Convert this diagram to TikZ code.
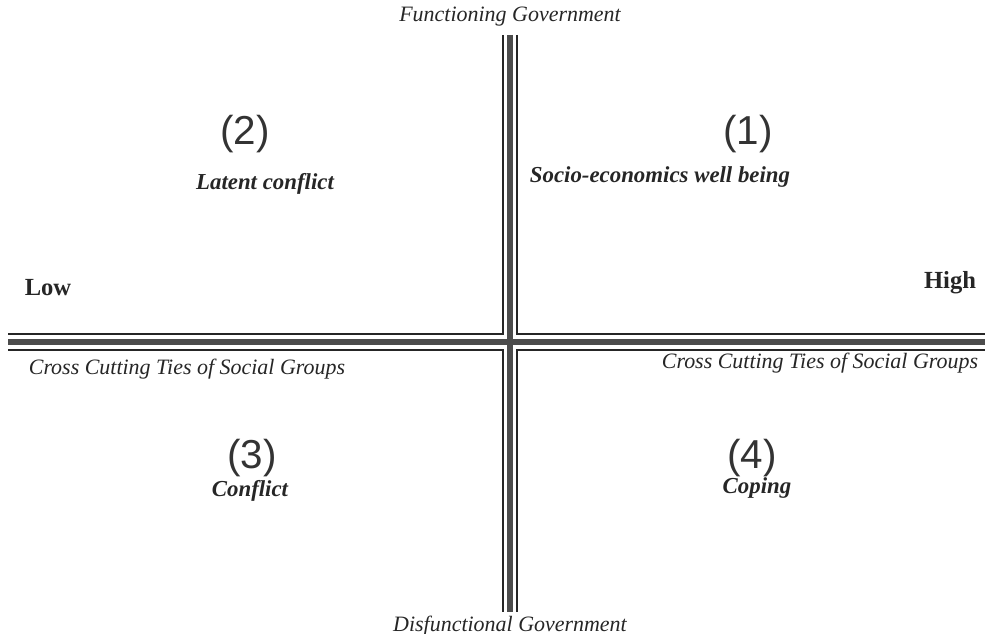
\documentclass[tikz,border=0pt]{standalone}
\usepackage{fontspec}
\setmainfont{Liberation Serif}
\newfontfamily\numfont{Liberation Sans}
\usetikzlibrary{positioning}

\begin{document}
\begin{tikzpicture}[x=0.02cm, y=-0.02cm,
  axlbl/.style={font=\fontsize{12.5}{14}\selectfont\itshape, text=black!85, inner sep=1pt},
  endlbl/.style={font=\fontsize{14}{16}\selectfont\bfseries, text=black!85, inner sep=1pt},
  num/.style={font=\numfont\fontsize{23}{26}\selectfont, text=black!80, inner sep=1pt},
  quad/.style={font=\fontsize{13}{15}\selectfont\bfseries\itshape, text=black!85, inner sep=1pt},
  midline/.style={line width=3.4pt, draw=black!70},
  rimline/.style={line width=0.8pt, draw=black!85}
]
  \useasboundingbox (0,0) rectangle (985,634);

  % axes
  \coordinate (top) at (510,35);
  \coordinate (bot) at (510,612);
  \coordinate (lft) at (8,342);
  \coordinate (rgt) at (985,342);
  \draw[midline] (top) -- (bot);
  \draw[midline] (lft) -- (rgt);
  \draw[rimline] (503,35) -- (503,334) -- (8,334);
  \draw[rimline] (517,35) -- (517,334) -- (985,334);
  \draw[rimline] (503,612) -- (503,350) -- (8,350);
  \draw[rimline] (517,612) -- (517,350) -- (985,350);

  % axis labels
  \node[axlbl, above=4pt of top]                (fg)   {Functioning Government};
  \node[axlbl, below=1pt of bot]                (dg)   {Disfunctional Government};
  \node[endlbl] at (48,288)                     (low)  {Low};
  \node[endlbl] at (950,283)                    (high) {High};
  \node[axlbl] at (187,369)                     (ctl)  {Cross Cutting Ties of Social Groups};
  \node[axlbl] at (820,363)                     (ctr)  {Cross Cutting Ties of Social Groups};

  % quadrants
  \node[num] at (748,134)                       (n1) {(1)};
  \node[quad] at (660,177)                      (q1) {Socio-economics well being};
  \node[num] at (245,134)                       (n2) {(2)};
  \node[quad] at (265,184)                      (q2) {Latent conflict};
  \node[num] at (252,458)                       (n3) {(3)};
  \node[quad] at (250,491)                      (q3) {Conflict};
  \node[num] at (752,458)                       (n4) {(4)};
  \node[quad] at (757,488)                      (q4) {Coping};
\end{tikzpicture}
\end{document}
